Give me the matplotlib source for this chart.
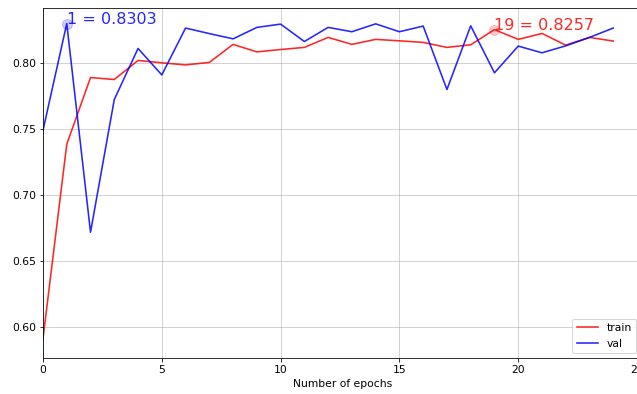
import numpy as np
import matplotlib
matplotlib.use('Agg')
import matplotlib.pyplot as plt

# Accuracy per epoch
epochs = list(range(25))
train_acc = [0.591, 0.7386, 0.7893, 0.7878, 0.8023, 0.8005, 0.7989, 0.8008,
             0.8145, 0.8088, 0.8106, 0.8122, 0.8198, 0.8145, 0.8183, 0.8172,
             0.8160, 0.8122, 0.8142, 0.8257, 0.8183, 0.8228, 0.8139, 0.8198,
             0.8170]
val_acc = [0.7492, 0.8303, 0.6718, 0.7726, 0.8114, 0.7913, 0.8269, 0.8227,
           0.8187, 0.8274, 0.8299, 0.8167, 0.8274, 0.8241, 0.8301, 0.8241,
           0.8284, 0.7802, 0.8286, 0.7929, 0.8132, 0.8081, 0.8134, 0.8198,
           0.8269]

fig = plt.figure(figsize=(637 / 72, 394 / 72), dpi=72)
ax = fig.add_axes([0.0675, 0.0906, 0.940, 0.8883])

ax.plot(epochs, train_acc, color='r', alpha=0.85, linewidth=1.6, label='train')
ax.plot(epochs, val_acc, color='b', alpha=0.85, linewidth=1.6, label='val')

# mark the best epoch of each curve
for series, color in [(val_acc, 'b'), (train_acc, 'r')]:
    best = int(np.argmax(series))
    ax.plot(best, series[best], 'o', color=color, alpha=0.2, markersize=10)
    ax.text(best, series[best], f'{best} = {series[best]:.4f}',
            color=color, alpha=0.85, fontsize=16)

ax.set_xlim(0, 25.2)
ax.set_ylim(0.576, 0.8419)
ax.set_xlabel('Number of epochs', fontsize=10.8)
ax.tick_params(labelsize=10.8)
ax.grid(True, color='#b0b0b0', alpha=0.7)
ax.legend(loc='lower right', fontsize=10.8)

fig.savefig('out.png', dpi=72)
